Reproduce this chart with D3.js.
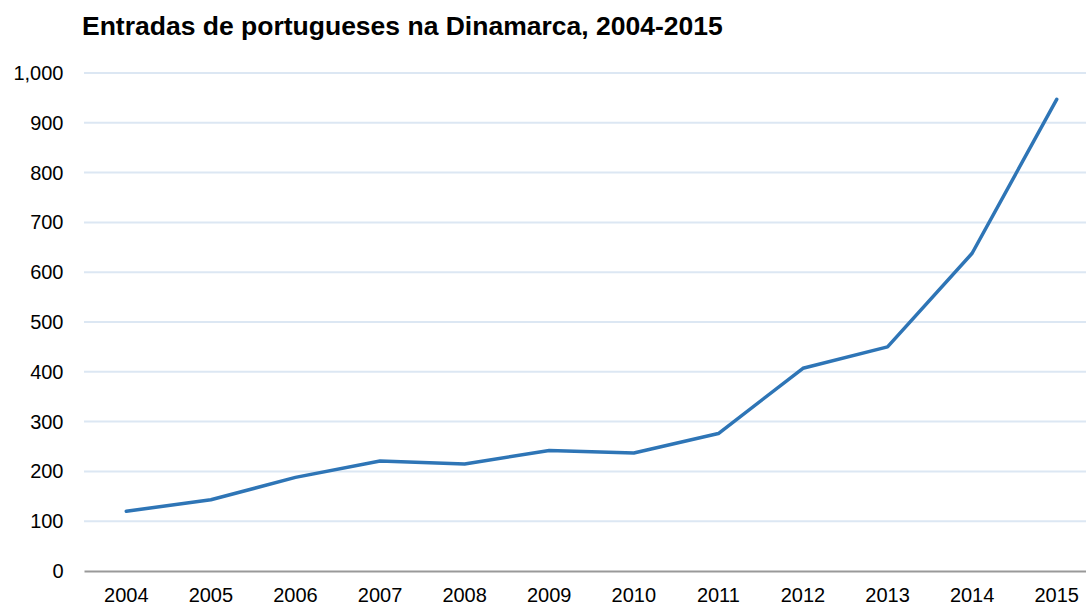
<!DOCTYPE html>
<html><head><meta charset="utf-8">
<script src="https://cdn.jsdelivr.net/npm/d3@7"></script>
<style>body{margin:0;background:#fff;overflow:hidden}svg{display:block}</style>
</head><body>
<svg id="c" width="1086" height="606"></svg>
<script>
const years = ["2004","2005","2006","2007","2008","2009","2010","2011","2012","2013","2014","2015"];
const entries = [120,143,188,221,215,242,237,276,407,450,638,947];
const yTicks = [0,100,200,300,400,500,600,700,800,900,1000];
const title = "Entradas de portugueses na Dinamarca, 2004-2015";

const svg = d3.select("#c");
const font = "'Liberation Sans', Arial, sans-serif";
const x = d3.scaleBand().domain(years).range([84, 1099]);
const y = d3.scaleLinear().domain([0, 1000]).range([571, 73]);

svg.append("text").attr("x", 82).attr("y", 34.5).attr("font-family", font)
  .attr("font-size", 26.5).attr("font-weight", "bold").attr("fill", "#000").text(title);

const grid = svg.append("g");
grid.selectAll("line").data(yTicks.filter(d => d > 0)).join("line")
  .attr("x1", 84).attr("x2", 1099).attr("y1", d => y(d)).attr("y2", d => y(d))
  .attr("stroke", "#dce7f3").attr("stroke-width", 2);

const yAxis = svg.append("g").attr("transform", "translate(84,0)")
  .call(d3.axisLeft(y).tickValues(yTicks).tickFormat(d3.format(",")).tickSize(0).tickPadding(20.5));
yAxis.select(".domain").remove();
yAxis.selectAll("text").attr("font-family", font).attr("font-size", 20).attr("fill", "#000");

const xAxis = svg.append("g").attr("transform", "translate(0,571)")
  .call(d3.axisBottom(x).tickSize(0).tickPadding(17));
xAxis.select(".domain").attr("stroke", "#999").attr("stroke-width", 2);
xAxis.selectAll("text").attr("font-family", font).attr("font-size", 20).attr("fill", "#000");

const line = d3.line().x((d, i) => x(years[i]) + x.bandwidth() / 2).y(d => y(d));
svg.append("path").datum(entries).attr("d", line).attr("fill", "none")
  .attr("stroke", "#2e75b6").attr("stroke-width", 3.5).attr("stroke-linejoin", "round").attr("stroke-linecap", "round");
</script>
</body></html>
